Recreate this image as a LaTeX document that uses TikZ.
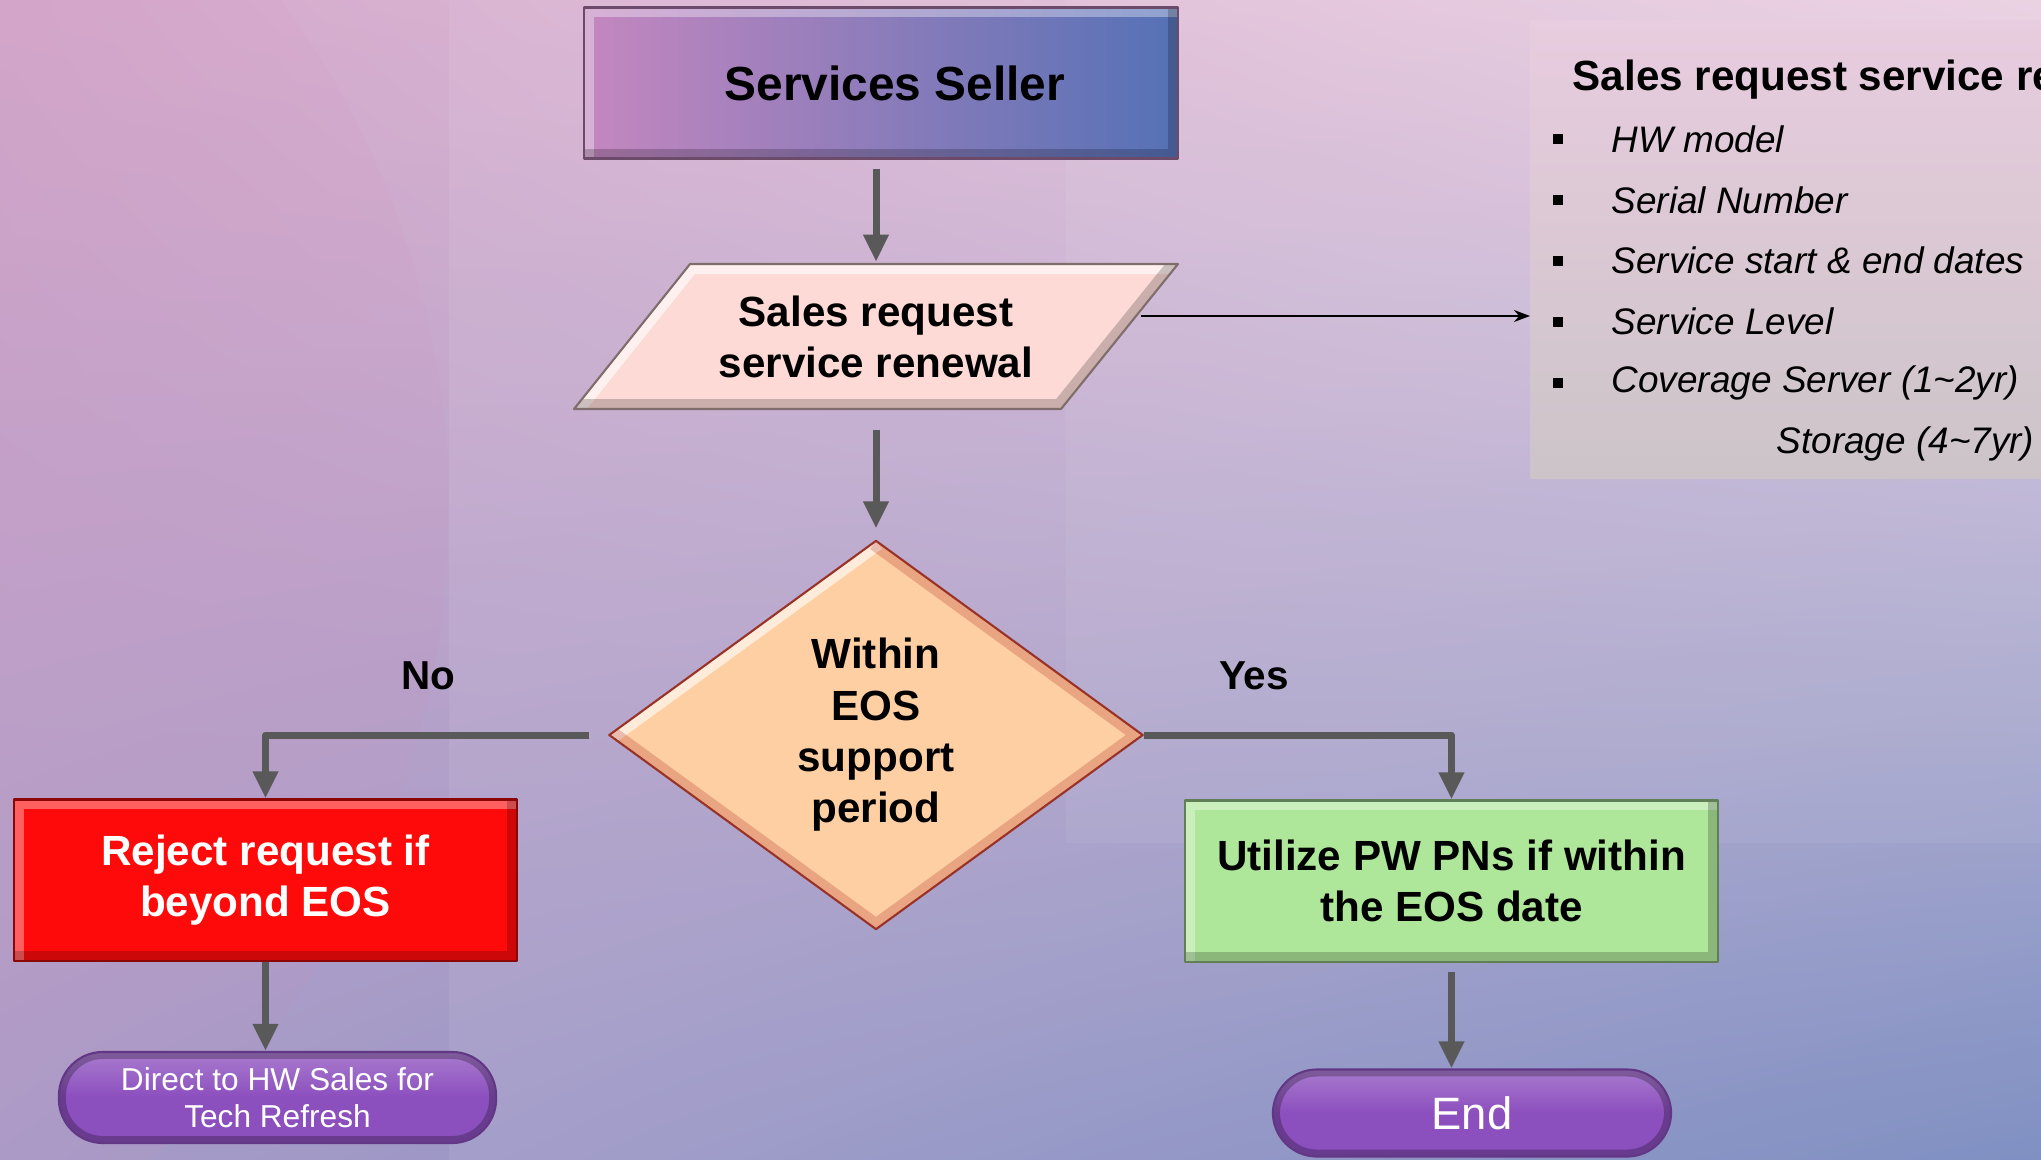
\documentclass[tikz,border=0pt]{standalone}
\usepackage{fontspec}
\setmainfont{Liberation Sans}
\usetikzlibrary{arrows.meta,shapes.geometric,shadings,calc}
\definecolor{flowgray}{HTML}{595959}
\definecolor{sellerpink}{HTML}{C487BF}
\definecolor{sellerblue}{HTML}{5571B6}
\definecolor{reqpink}{HTML}{FDDAD6}
\definecolor{eospeach}{HTML}{FECFA2}
\definecolor{rejectred}{HTML}{FF0A0A}
\definecolor{utilgreen}{HTML}{AEE799}
\definecolor{termpurple}{HTML}{8C4FBE}
\definecolor{bgul}{HTML}{D3A8CB}
\definecolor{bgur}{HTML}{E9CDE0}
\definecolor{bgll}{HTML}{A99CC8}
\definecolor{bglr}{HTML}{7688BE}
\definecolor{paneltop}{HTML}{E8CCDF}
\definecolor{panelbot}{HTML}{CCC4C8}
\begin{document}
\begin{tikzpicture}[x=0.01cm,y=-0.01cm,line join=round,
    flow/.style={draw=flowgray,line width=0.07cm,-{Triangle[width=0.24cm,length=0.27cm]}},
    bevel/.style={path picture={
      \draw[white,opacity=0.35,line width=0.2cm] (path picture bounding box.south west) -- (path picture bounding box.north west) -- (path picture bounding box.north east);
      \draw[black,opacity=0.2,line width=0.2cm] (path picture bounding box.north east) -- (path picture bounding box.south east) -- (path picture bounding box.south west);}},
    box/.style={draw=#1!55!black,fill=#1,bevel,line width=0.6pt,minimum height=1.61cm,align=center,font=\fontsize{12}{14.6}\selectfont\bfseries},
    term/.style={draw=termpurple!70!black,top color=termpurple!75!white,bottom color=termpurple,middle color=termpurple,shading angle=0,rounded corners=0.44cm,text=white,align=center,line width=0.6pt,
      path picture={\draw[black,opacity=0.25,line width=0.14cm,rounded corners=0.44cm] (path picture bounding box.north west) rectangle (path picture bounding box.south east);}},
    item/.style={anchor=west,inner sep=0pt,font=\fontsize{10.5}{12}\selectfont\itshape}]
\def\W{2041}\def\H{1160}
\clip (0,0) rectangle (\W,\H);
\shade[upper left=bgul,upper right=bgur,lower left=bgll,lower right=bglr] (0,0) rectangle (\W,\H);
\fill[magenta!30!bgul,opacity=0.07] (-409,510) circle (858);
\fill[white,opacity=0.07] (449,0) rectangle (\W,\H);
\fill[white,opacity=0.06] (1066,0) rectangle (\W,843);
\node[anchor=north west,inner sep=0pt,minimum width=5.4cm,minimum height=4.58cm,top color=paneltop,bottom color=panelbot] (panel) at (1530,20) {};
\node[box=sellerpink,left color=sellerpink,right color=sellerblue,minimum width=5.94cm,minimum height=1.51cm,font=\fontsize{13.6}{16}\selectfont\bfseries] (seller) at (881,83) {\hspace{0.28cm}Services Seller};
\filldraw[fill=reqpink,draw=reqpink!50!black,line width=0.6pt,path picture={
    \draw[white,opacity=0.6,line width=0.2cm] (574,409) -- (690,264) -- (1178,264);
    \draw[black,opacity=0.2,line width=0.2cm] (1178,264) -- (1061,409) -- (574,409);}]
  (690,264) -- (1178,264) -- (1061,409) -- (574,409) -- cycle;
\node[align=center,minimum width=5.28cm,minimum height=1.45cm,font=\fontsize{12}{14.6}\selectfont\bfseries] (request) at (876,337) {Sales request\\service renewal};
\node[diamond,aspect=1.37,inner sep=0pt,minimum width=5.34cm,minimum height=3.89cm,fill=eospeach,draw=eospeach!40!red!60!black,line width=0.6pt,align=center,font=\fontsize{12}{14.6}\selectfont\bfseries,
  path picture={
    \draw[white,opacity=0.6,line width=0.2cm] (path picture bounding box.west) -- (path picture bounding box.north);
    \draw[red!60!black,opacity=0.2,line width=0.2cm] (path picture bounding box.north) -- (path picture bounding box.east) -- (path picture bounding box.south) -- (path picture bounding box.west);}] (eos) at (876,735) {Within\\EOS\\support\\period};
\node[box=rejectred,text=white,minimum width=5.03cm] (reject) at (265.5,880) {Reject request if\\beyond EOS};
\node[box=utilgreen,minimum width=5.33cm] (utilize) at (1451.5,881) {Utilize PW PNs if within\\the EOS date};
\node[term,minimum width=4.37cm,minimum height=0.91cm,font=\fontsize{9}{10.7}\selectfont] (redirect) at (277.5,1097.5) {Direct to HW Sales for\\Tech Refresh};
\node[term,minimum width=3.98cm,minimum height=0.87cm,font=\fontsize{12.9}{15}\selectfont] (finish) at (1472,1113) {End};
\node[font=\fontsize{11.5}{13}\selectfont\bfseries] (nolabel) at (428,676) {No};
\node[font=\fontsize{11.5}{13}\selectfont\bfseries] (yeslabel) at (1254,676) {Yes};
\draw[flow,shorten <=0.09cm,shorten >=0.02cm] (request.north |- seller.south) -- (request.north);
\draw[flow,shorten <=0.2cm,shorten >=0.11cm] (request) -- (eos);
\draw[flow,shorten <=0.19cm] (eos.west) -| (reject.north);
\draw[flow] (eos.east) -| (utilize.north);
\draw[flow] (reject.south) -- (reject.south |- redirect.north);
\draw[flow,shorten <=0.09cm] (utilize.south) -- (utilize.south |- finish.north);
\draw[thin,-{Stealth[length=0.16cm,width=0.12cm]}] ([yshift=0.21cm]request.east) -- ([yshift=0.21cm]request.east -| panel.west);
\node[anchor=west,inner sep=0pt,font=\fontsize{12}{14}\selectfont\bfseries] (listtitle) at (1572,80) {Sales request service renewal};
\foreach \t [count=\i] in {HW model,Serial Number,Service start \& end dates,Service Level,Coverage Server (1\textasciitilde 2yr)}{
  \fill (1553,{139+60.9*(\i-1)-5}) rectangle ++(10,10);
  \node[item] (item\i) at (1611,{139+60.9*(\i-1)}) {\t};
}
\node[item,anchor=east] (storage) at (2035,444) {Storage (4\textasciitilde 7yr)};
\end{tikzpicture}
\end{document}
